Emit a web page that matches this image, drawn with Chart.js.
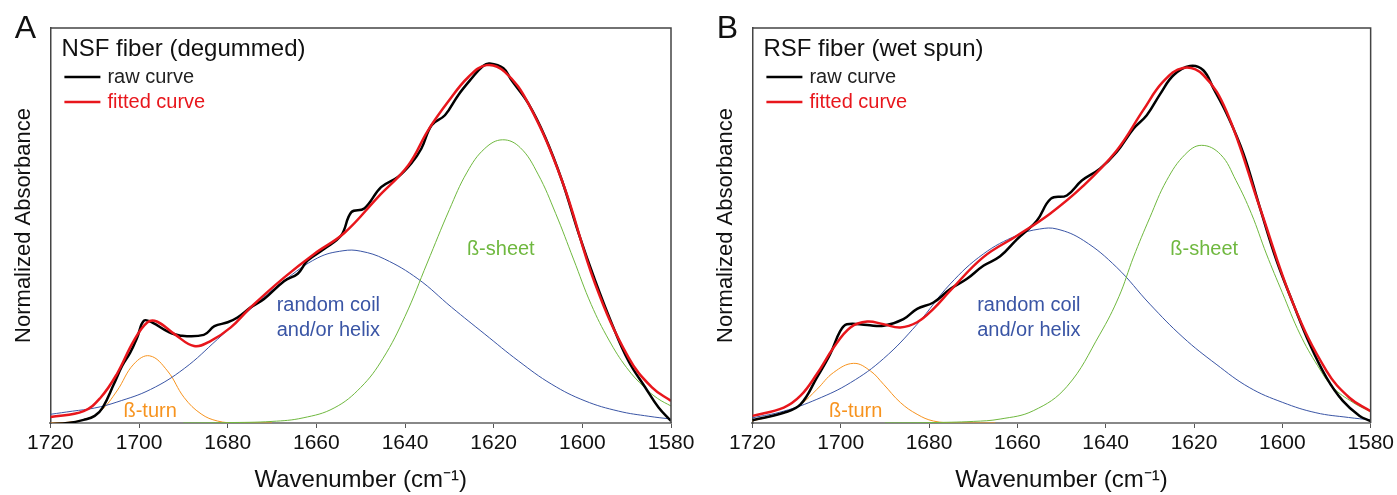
<!DOCTYPE html>
<html>
<head>
<meta charset="utf-8">
<script src="https://cdn.jsdelivr.net/npm/chart.js@4.4.1/dist/chart.umd.min.js"></script>
<style>
  html, body { margin: 0; padding: 0; background: #fff; }
  #wrap { position: relative; width: 1397px; height: 495px; }
  .panel { position: absolute; top: 0; }
</style>
</head>
<body>
<div id="wrap">
  <div class="panel" style="left:0"><canvas id="chartA" width="700" height="495"></canvas></div>
  <div class="panel" style="left:700px"><canvas id="chartB" width="697" height="495"></canvas></div>
</div>
<script>
// x ticks (wavenumber, cm-1), axis runs high -> low
const xTicks = [1720, 1700, 1680, 1660, 1640, 1620, 1600, 1580]

// ---- panel A: NSF fiber (degummed) ----
const rawA_wn = [1720, 1716, 1712.5, 1710, 1708.2, 1705.7, 1703.8, 1702, 1700.4, 1698.9, 1697, 1693.6, 1690.6, 1685.4, 1683, 1680, 1677.8, 1674.8, 1671.8, 1667.3, 1664.2, 1662, 1658.2, 1654.4, 1652.1, 1649.2, 1645.4, 1641.6, 1638.6, 1636.3, 1634, 1631, 1628, 1625, 1622.4, 1620.9, 1617.8, 1616, 1612.2, 1608.4, 1604.6, 1600.8, 1597.1, 1593.3, 1589.6, 1585.8, 1582.8, 1580]
const rawA_abs = [-0.003, 0.0, 0.008, 0.018, 0.039, 0.098, 0.145, 0.178, 0.217, 0.259, 0.254, 0.232, 0.221, 0.223, 0.245, 0.255, 0.267, 0.293, 0.314, 0.359, 0.378, 0.411, 0.441, 0.475, 0.534, 0.543, 0.597, 0.623, 0.657, 0.695, 0.754, 0.779, 0.830, 0.872, 0.904, 0.910, 0.898, 0.868, 0.809, 0.724, 0.614, 0.479, 0.360, 0.250, 0.157, 0.090, 0.039, 0.005]
const fitA_wn = [1720, 1712.5, 1708.7, 1705, 1701.2, 1698.1, 1696, 1692, 1687.6, 1683.8, 1679.3, 1674.8, 1667.3, 1660.5, 1653.7, 1646.1, 1639.3, 1634.8, 1630.3, 1625.7, 1621.6, 1617.5, 1612.2, 1604.6, 1597.1, 1589.6, 1584.3, 1580]
const fitA_abs = [0.015, 0.030, 0.064, 0.124, 0.208, 0.255, 0.257, 0.225, 0.195, 0.208, 0.242, 0.293, 0.368, 0.428, 0.481, 0.572, 0.652, 0.741, 0.813, 0.876, 0.906, 0.889, 0.809, 0.614, 0.352, 0.166, 0.090, 0.056]
const turnA_wn = [1720, 1716, 1712, 1708.7, 1705, 1701.2, 1697.6, 1693.6, 1689.8, 1686, 1682.3, 1678, 1670]
const turnA_abs = [0.0, 0.002, 0.010, 0.030, 0.081, 0.149, 0.170, 0.132, 0.064, 0.023, 0.005, 0.0, 0.0]
const coilA_wn = [1720, 1715, 1710, 1705, 1697.4, 1689.8, 1682.3, 1674.8, 1667.3, 1659.7, 1654, 1650, 1644.6, 1637.1, 1629.5, 1622, 1614.4, 1606.9, 1599.4, 1591.8, 1585, 1580]
const coilA_abs = [0.022, 0.030, 0.038, 0.053, 0.085, 0.138, 0.212, 0.289, 0.360, 0.418, 0.436, 0.435, 0.415, 0.365, 0.293, 0.225, 0.157, 0.098, 0.056, 0.030, 0.017, 0.010]
const sheetA_wn = [1690, 1680, 1670, 1663, 1656, 1650, 1645, 1640, 1635, 1630, 1626, 1622, 1618, 1614, 1610, 1606, 1602, 1598, 1594, 1590, 1586, 1583, 1580]
const sheetA_abs = [0.0, 0.001, 0.004, 0.013, 0.038, 0.090, 0.163, 0.270, 0.405, 0.540, 0.635, 0.695, 0.717, 0.697, 0.630, 0.530, 0.415, 0.300, 0.210, 0.140, 0.090, 0.062, 0.043]

// ---- panel B: RSF fiber (wet spun) ----
const rawB_wn = [1720, 1712.9, 1709.1, 1705.4, 1702.4, 1700.1, 1698.6, 1694, 1690.3, 1685.8, 1682.7, 1679, 1675.2, 1671.4, 1667.7, 1663.9, 1660.1, 1655.6, 1652.4, 1648.8, 1645.4, 1641.3, 1637.5, 1633.7, 1630.7, 1627.6, 1624.6, 1620.9, 1617.9, 1615.6, 1612.6, 1608.8, 1605.1, 1601.3, 1597.5, 1593.8, 1590, 1586.3, 1582.5, 1580]
const rawB_abs = [0.007, 0.026, 0.047, 0.115, 0.174, 0.233, 0.250, 0.248, 0.246, 0.263, 0.289, 0.305, 0.339, 0.365, 0.398, 0.422, 0.465, 0.512, 0.568, 0.576, 0.614, 0.644, 0.686, 0.745, 0.779, 0.834, 0.881, 0.904, 0.893, 0.847, 0.783, 0.682, 0.546, 0.411, 0.301, 0.200, 0.115, 0.056, 0.018, 0.005]
const fitB_wn = [1720, 1712.9, 1709.1, 1705.4, 1701.6, 1697.8, 1694, 1690.3, 1686.5, 1682.7, 1679, 1675.2, 1667.7, 1660.1, 1652.6, 1645.4, 1637.5, 1631.5, 1627, 1622.5, 1617.9, 1612.6, 1605.1, 1597.5, 1590, 1584.8, 1580]
const fitB_abs = [0.018, 0.039, 0.069, 0.124, 0.191, 0.242, 0.257, 0.250, 0.242, 0.255, 0.289, 0.335, 0.420, 0.474, 0.530, 0.597, 0.690, 0.792, 0.864, 0.899, 0.881, 0.788, 0.546, 0.301, 0.132, 0.064, 0.030]
const turnB_wn = [1720, 1712.9, 1709.1, 1705.4, 1701.6, 1697.1, 1693.3, 1690.3, 1686.5, 1682.7, 1679, 1674, 1665]
const turnB_abs = [0.005, 0.026, 0.047, 0.085, 0.128, 0.151, 0.132, 0.098, 0.052, 0.022, 0.005, 0.0, 0.0]
const coilB_wn = [1720, 1712.9, 1705.4, 1697.8, 1690.3, 1682.7, 1675.2, 1667.7, 1660.1, 1655, 1651, 1645, 1637.5, 1630, 1622.5, 1615, 1607.5, 1599.9, 1592.4, 1585, 1580]
const coilB_abs = [0.013, 0.030, 0.060, 0.102, 0.163, 0.250, 0.352, 0.428, 0.475, 0.491, 0.491, 0.462, 0.394, 0.301, 0.217, 0.149, 0.090, 0.052, 0.026, 0.014, 0.008]
const sheetB_wn = [1690, 1680, 1670, 1663.9, 1656.4, 1648.8, 1641.3, 1637, 1633.7, 1630, 1626.2, 1622, 1618.3, 1614, 1610.5, 1607, 1603.6, 1600, 1596, 1592, 1588.5, 1584, 1580.3]
const sheetB_abs = [0.0, 0.001, 0.004, 0.010, 0.031, 0.092, 0.225, 0.320, 0.420, 0.520, 0.614, 0.680, 0.703, 0.680, 0.614, 0.530, 0.428, 0.330, 0.225, 0.145, 0.090, 0.052, 0.030]

const legendLabels = ['raw curve', 'fitted curve']

const FONT = '"Liberation Sans", Arial, Helvetica, sans-serif'
const C = { raw: '#000000', fit: '#e8161c', sheet: '#6fb83f', coil: '#3a55a5', turn: '#f7931e' }

const pts = (xs, ys) => xs.map((x, i) => ({ x, y: ys[i] }))

const line = (data, color, width, order) => ({
  data, borderColor: color, borderWidth: width, pointRadius: 0,
  tension: 0.4, fill: false, order,
})

// frame, titles, legend and peak labels
const decor = {
  id: 'decor',
  afterDraw(chart, args, o) {
    const { ctx, chartArea: a, scales: { x, y } } = chart
    ctx.save()
    ctx.strokeStyle = '#444'
    ctx.lineWidth = 1.5
    ctx.beginPath()
    ctx.moveTo(a.left, a.top)
    ctx.lineTo(a.right, a.top)
    ctx.lineTo(a.right, a.bottom)
    ctx.stroke()

    ctx.textBaseline = 'middle'
    ctx.textAlign = 'center'
    ctx.fillStyle = '#111'
    ctx.font = '32px ' + FONT
    ctx.fillText(o.letter, a.left - 25, a.top + 1)

    ctx.textAlign = 'left'
    ctx.font = '24px ' + FONT
    ctx.fillText(o.title, a.left + 11, a.top + 21)

    ctx.font = '20px ' + FONT
    ;[C.raw, C.fit].forEach((col, i) => {
      const yy = a.top + 49 + i * 25
      ctx.strokeStyle = col
      ctx.lineWidth = 2.5
      ctx.beginPath()
      ctx.moveTo(a.left + 14, yy)
      ctx.lineTo(a.left + 50, yy)
      ctx.stroke()
      ctx.fillStyle = i === 0 ? '#222' : C.fit
      ctx.fillText(legendLabels[i], a.left + 57, yy)
    })

    ctx.textAlign = 'center'
    o.labels.forEach(l => {
      ctx.fillStyle = l.color
      ctx.fillText(l.text, x.getPixelForValue(l.wn), y.getPixelForValue(l.abs))
    })
    ctx.restore()
  },
}

const makeChart = (id, padLeft, padRight, sets, decorOpts) => new Chart(document.getElementById(id), {
  type: 'line',
  data: {
    datasets: [
      line(pts(sets.raw[0], sets.raw[1]), C.raw, 2.5, 1),
      line(pts(sets.fit[0], sets.fit[1]), C.fit, 2.5, 0),
      line(pts(sets.sheet[0], sets.sheet[1]), C.sheet, 1, 2),
      line(pts(sets.coil[0], sets.coil[1]), C.coil, 1, 3),
      line(pts(sets.turn[0], sets.turn[1]), C.turn, 1, 4),
    ],
  },
  options: {
    responsive: false,
    animation: false,
    layout: { padding: { left: padLeft, right: padRight, top: 28, bottom: 0 } },
    plugins: { legend: { display: false }, tooltip: { enabled: false }, decor: decorOpts },
    scales: {
      x: {
        type: 'linear', reverse: true, min: 1580, max: 1720,
        afterBuildTicks: s => { s.ticks = xTicks.map(v => ({ value: v })) },
        ticks: { color: '#111', font: { family: FONT, size: 21 }, padding: 3, maxRotation: 0,
                 autoSkip: false, callback: v => String(v) },
        grid: { drawOnChartArea: false, drawTicks: true, tickLength: 5, color: '#555' },
        border: { color: '#888', width: 2 },
        title: { display: true, text: 'Wavenumber (cm⁻¹)', color: '#111',
                 font: { family: FONT, size: 24 }, padding: { top: 7, bottom: 0 } },
      },
      y: {
        min: 0, max: 1,
        ticks: { display: false },
        grid: { display: false, drawTicks: false },
        border: { color: '#444', width: 1.5 },
        title: { display: true, text: 'Normalized Absorbance', color: '#111',
                 font: { family: FONT, size: 22 }, padding: { top: 0, bottom: 13 } },
      },
    },
  },
  plugins: [decor],
})

makeChart('chartA', 11, 29,
  { raw: [rawA_wn, rawA_abs], fit: [fitA_wn, fitA_abs], sheet: [sheetA_wn, sheetA_abs],
    coil: [coilA_wn, coilA_abs], turn: [turnA_wn, turnA_abs] },
  { letter: 'A', title: 'NSF fiber (degummed)', labels: [
    { text: 'ß-sheet', wn: 1618.4, abs: 0.439, color: C.sheet },
    { text: 'random coil', wn: 1657.3, abs: 0.297, color: C.coil },
    { text: 'and/or helix', wn: 1657.3, abs: 0.234, color: C.coil },
    { text: 'ß-turn', wn: 1697.5, abs: 0.030, color: C.turn },
  ] })

makeChart('chartB', 13, 26,
  { raw: [rawB_wn, rawB_abs], fit: [fitB_wn, fitB_abs], sheet: [sheetB_wn, sheetB_abs],
    coil: [coilB_wn, coilB_abs], turn: [turnB_wn, turnB_abs] },
  { letter: 'B', title: 'RSF fiber (wet spun)', labels: [
    { text: 'ß-sheet', wn: 1617.7, abs: 0.439, color: C.sheet },
    { text: 'random coil', wn: 1657.4, abs: 0.297, color: C.coil },
    { text: 'and/or helix', wn: 1657.4, abs: 0.234, color: C.coil },
    { text: 'ß-turn', wn: 1696.6, abs: 0.030, color: C.turn },
  ] })
</script>
</body>
</html>
